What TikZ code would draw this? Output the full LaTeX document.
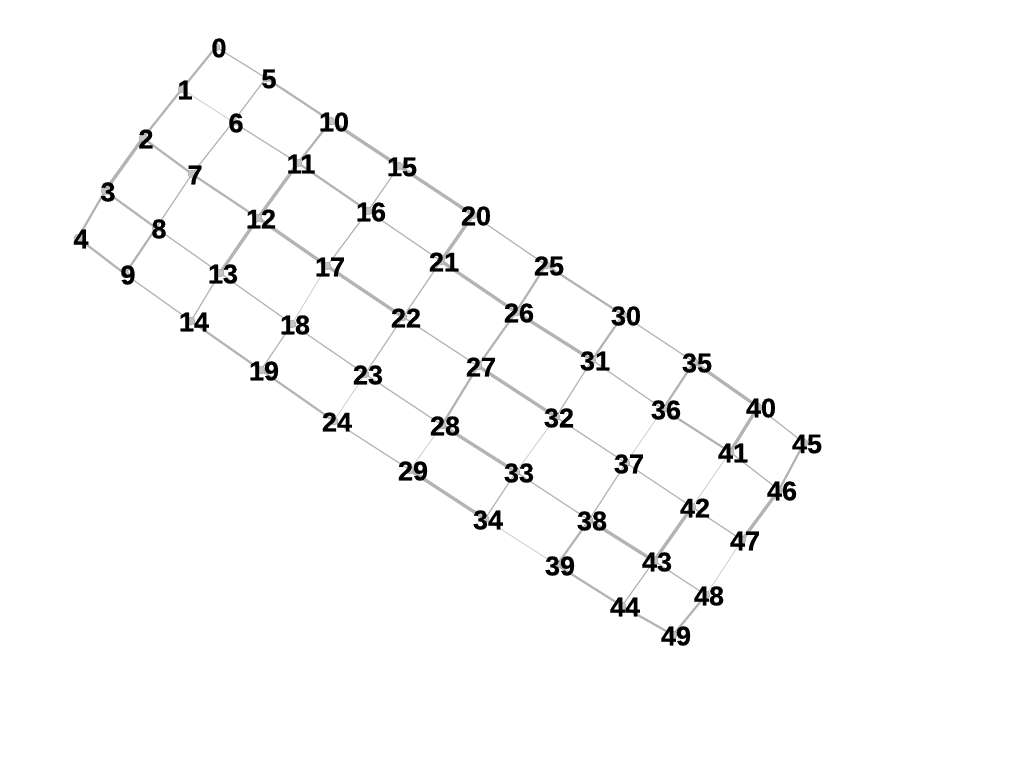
\documentclass[tikz,border=0pt]{standalone}
\usepackage{fontspec}
\setmainfont{Liberation Sans}
\newfontfamily\lblfont[BoldFeatures={FakeBold=0.6}]{Liberation Sans}
\definecolor{edgegray}{HTML}{B4B4B4}
\definecolor{dotfill}{HTML}{C4C4C4}
\definecolor{dotdraw}{HTML}{9A9A9A}
\begin{document}
\begin{tikzpicture}[x=1pt,y=-1pt,
  ea/.style={draw=edgegray!75,line width=0.7pt},
  eb/.style={draw=edgegray,line width=1.2pt},
  ec/.style={draw=edgegray,line width=2.2pt},
  ed/.style={draw=edgegray,line width=3.3pt},
  dot/.style={circle,fill=dotfill,draw=dotdraw,line width=0.3pt,inner sep=0pt,minimum size=8pt},
  lbl/.style={font=\lblfont\bfseries\fontsize{27}{27}\selectfont,inner sep=0pt,text=black}]
\useasboundingbox (0,0) rectangle (1024,768);
\foreach \i/\x/\y in {
 0/216/47, 1/182/89, 2/143/138, 3/105/191, 4/78/238,
 5/266/78, 6/233/122, 7/192/174, 8/156/228, 9/125/274,
 10/331/121, 11/298/163, 12/258/218, 13/220/273, 14/191/321,
 15/399/166, 16/368/211, 17/327/266, 18/292/324, 19/261/370,
 20/473/215, 21/441/261, 22/403/317, 23/365/374, 24/334/421,
 25/546/265, 26/516/312, 27/478/366, 28/442/425, 29/410/470,
 30/623/315, 31/592/360, 32/556/417, 33/516/472, 34/485/519,
 35/694/362, 36/663/409, 37/626/463, 38/589/520, 39/557/565,
 40/758/407, 41/730/452, 42/692/507, 43/654/561, 44/622/606,
 45/804/443, 46/779/490, 47/742/540, 48/706/595, 49/673/635}
 \coordinate (c\i) at (\x,\y);
% vertical edges (within a column)
\foreach \a/\b/\s in {
 0/1/ec, 1/2/ec, 2/3/ed, 3/4/ec,
 5/6/eb, 6/7/eb, 7/8/eb, 8/9/ec,
 10/11/ec, 11/12/ed, 12/13/ed, 13/14/eb,
 15/16/eb, 16/17/eb, 17/18/ea, 18/19/eb,
 20/21/ed, 21/22/eb, 22/23/eb, 23/24/ea,
 25/26/ec, 26/27/ec, 27/28/ec, 28/29/ea,
 30/31/ec, 31/32/eb, 32/33/ea, 33/34/eb,
 35/36/ec, 36/37/ea, 37/38/eb, 38/39/ec,
 40/41/ed, 41/42/ea, 42/43/ed, 43/44/eb,
 45/46/ec, 46/47/ed, 47/48/ea, 48/49/ec}
 \draw[\s] (c\a) -- (c\b);
% horizontal edges (between columns)
\foreach \a/\b/\s in {
 0/5/eb, 1/6/ea, 2/7/ec, 3/8/ec, 4/9/ec,
 5/10/ec, 6/11/eb, 7/12/ec, 8/13/eb, 9/14/eb,
 10/15/ed, 11/16/ec, 12/17/ed, 13/18/eb, 14/19/ec,
 15/20/ed, 16/21/eb, 17/22/ed, 18/23/eb, 19/24/ec,
 20/25/eb, 21/26/ed, 22/27/eb, 23/28/eb, 24/29/eb,
 25/30/ec, 26/31/ed, 27/32/ed, 28/33/ed, 29/34/ed,
 30/35/eb, 31/36/eb, 32/37/eb, 33/38/eb, 34/39/ea,
 35/40/ed, 36/41/ec, 37/42/eb, 38/43/ed, 39/44/ec,
 40/45/eb, 41/46/eb, 42/47/eb, 43/48/eb, 44/49/ec}
 \draw[\s] (c\a) -- (c\b);
\foreach \i in {0,...,49}
 \node[dot] (d\i) at (c\i) {};
\foreach \i in {0,...,49}
 \node[lbl,xshift=3pt,yshift=-1pt] (n\i) at (c\i) {\i};
\end{tikzpicture}
\end{document}
